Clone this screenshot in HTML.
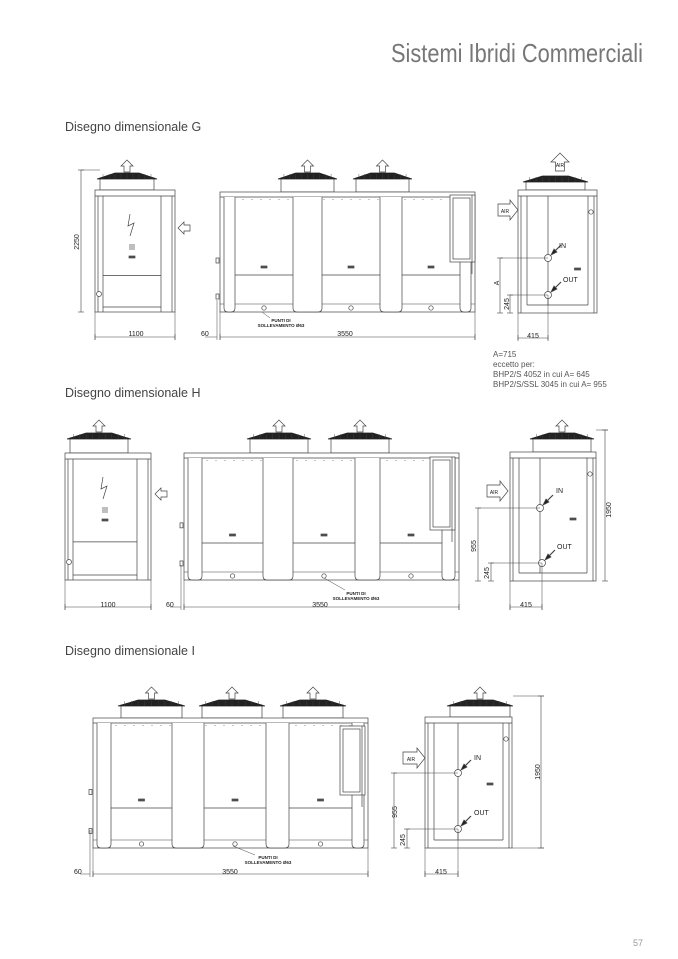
<!DOCTYPE html>
<html><head><meta charset="utf-8">
<style>
html,body{margin:0;padding:0;background:#fff;}
svg{display:block;}
text{font-family:"Liberation Sans",sans-serif;fill:#333;}
.h{font-size:12.5px;fill:#444;}
.d{font-size:7px;fill:#222;}
.s{font-size:4.5px;fill:#222;font-weight:bold;}
.n{font-size:8px;fill:#555;}
</style></head>
<body>
<svg id="c" width="678" height="959" viewBox="0 0 678 959" xmlns="http://www.w3.org/2000/svg">
<rect width="678" height="959" fill="#fff"/>
<g id="shapes" fill="none" stroke="#444" stroke-width="0.7"></g>
<text x="391" y="62" font-size="26" textLength="252" lengthAdjust="spacingAndGlyphs" style="fill:#777">Sistemi Ibridi Commerciali</text>
<text class="h" x="65" y="131">Disegno dimensionale G</text>
<text class="h" x="65" y="397">Disegno dimensionale H</text>
<text class="h" x="65" y="655">Disegno dimensionale I</text>
<text x="633" y="946" font-size="9" style="fill:#999">57</text>

<text class="d" transform="translate(79,242) rotate(-90)" text-anchor="middle">2250</text>
<text class="d" x="136" y="336" text-anchor="middle">1100</text>
<text class="d" x="201" y="336">60</text>
<text class="d" x="345" y="336" text-anchor="middle">3550</text>
<text class="s" x="281" y="322" text-anchor="middle">PUNTI DI</text>
<text class="s" x="281" y="327" text-anchor="middle">SOLLEVAMENTO Ø63</text>
<text class="d" x="560" y="167" text-anchor="middle" style="font-size:5px">AIR</text>
<text class="d" x="505" y="213" text-anchor="middle" style="font-size:5px">AIR</text>
<text class="d" x="559" y="248">IN</text>
<text class="d" x="563" y="282">OUT</text>
<text class="d" transform="translate(499,283) rotate(-90)" text-anchor="middle">A</text>
<text class="d" transform="translate(509,304) rotate(-90)" text-anchor="middle">245</text>
<text class="d" x="533" y="338" text-anchor="middle">415</text>
<text class="n" x="493" y="357">A=715</text>
<text class="n" x="493" y="367">eccetto per:</text>
<text class="n" x="493" y="377">BHP2/S 4052 in cui A= 645</text>
<text class="n" x="493" y="387">BHP2/S/SSL 3045 in cui A= 955</text>

<text class="d" x="108" y="607" text-anchor="middle">1100</text>
<text class="d" x="166" y="607">60</text>
<text class="d" x="320" y="607" text-anchor="middle">3550</text>
<text class="s" x="356" y="595" text-anchor="middle">PUNTI DI</text>
<text class="s" x="356" y="600" text-anchor="middle">SOLLEVAMENTO Ø63</text>
<text class="d" x="494" y="494" text-anchor="middle" style="font-size:5px">AIR</text>
<text class="d" x="556" y="493">IN</text>
<text class="d" x="557" y="549">OUT</text>
<text class="d" transform="translate(611,510) rotate(-90)" text-anchor="middle">1950</text>
<text class="d" transform="translate(476,546) rotate(-90)" text-anchor="middle">955</text>
<text class="d" transform="translate(489,573) rotate(-90)" text-anchor="middle">245</text>
<text class="d" x="526" y="607" text-anchor="middle">415</text>

<text class="d" x="74" y="874">60</text>
<text class="d" x="230" y="874" text-anchor="middle">3550</text>
<text class="s" x="268" y="859" text-anchor="middle">PUNTI DI</text>
<text class="s" x="268" y="864" text-anchor="middle">SOLLEVAMENTO Ø63</text>
<text class="d" x="411" y="761" text-anchor="middle" style="font-size:5px">AIR</text>
<text class="d" x="474" y="760">IN</text>
<text class="d" x="474" y="815">OUT</text>
<text class="d" transform="translate(540,772) rotate(-90)" text-anchor="middle">1950</text>
<text class="d" transform="translate(397,812) rotate(-90)" text-anchor="middle">955</text>
<text class="d" transform="translate(405,840) rotate(-90)" text-anchor="middle">245</text>
<text class="d" x="441" y="874" text-anchor="middle">415</text>
</svg>
<script>
var g=document.getElementById('shapes'),NS='http://www.w3.org/2000/svg';
function el(t,a){var e=document.createElementNS(NS,t);for(var k in a)e.setAttribute(k,a[k]);g.appendChild(e);return e;}
function L(x1,y1,x2,y2,w){el('line',{x1:x1,y1:y1,x2:x2,y2:y2,'stroke-width':w||0.7});}
function R(x,y,w,h,f){el('rect',{x:x,y:y,width:w,height:h,fill:f||'none'});}
function C(x,y,r){el('circle',{cx:x,cy:y,r:r,fill:'#fff'});}
function up(cx,t,s){s=s||1;el('polygon',{points:[cx,t,cx+6*s,t+6*s,cx+3*s,t+6*s,cx+3*s,t+12*s,cx-3*s,t+12*s,cx-3*s,t+6*s,cx-6*s,t+6*s].join(' '),fill:'#fff'});}
function left(x,cy){el('polygon',{points:[x,cy,x+6,cy-6,x+6,cy-3,x+12,cy-3,x+12,cy+3,x+6,cy+3,x+6,cy+6].join(' '),fill:'#fff'});}
function airR(x,cy,w){el('polygon',{points:[x,cy-6,x+w-8,cy-6,x+w-8,cy-10,x+w,cy,x+w-8,cy+10,x+w-8,cy+6,x,cy+6].join(' '),fill:'#fff'});}
function fan(x0,x1,capY,bodyY,noArrow){
  var w=x1-x0;
  R(x0+3,capY+5,w-6,bodyY-capY-5,'#fff');
  el('polygon',{points:[x0,capY+6,x0+w*0.3,capY,x1-w*0.3,capY,x1,capY+6].join(' '),fill:'#222',stroke:'#222'});
  for(var i=1;i<10;i++)L(x0+w*i/10,capY+1,x0+w*i/10,capY+6,0.4);
  if(!noArrow)up((x0+x1)/2,capY-13);
}
function dimH(x1,x2,y){L(x1,y,x2,y,0.6);L(x1,y-3,x1,y+3,0.6);L(x2,y-3,x2,y+3,0.6);}
function dimV(x,y1,y2){L(x,y1,x,y2,0.6);L(x-3,y1,x+3,y1,0.6);L(x-3,y2,x+3,y2,0.6);}
function front(x0,x1,y0,y1,fx0,fx1,capY){
  fan(fx0,fx1,capY,y0);
  R(x0,y0,x1-x0,y1-y0,'#fff');L(x0,y0+6,x1,y0+6);
  var ix0=x0+8,ix1=x1-14;
  L(ix0,y0+6,ix0,y1);L(ix1,y0+6,ix1,y1);
  var ly=y0+(y1-y0)*0.7;L(ix0,ly,ix1,ly);L(ix0,y1-5,ix1,y1-5);
  L(x0+3,y0+6,x0+3,y1);L(x1-3,y0+6,x1-3,y1);
  var cx=(ix0+ix1)/2;
  el('polyline',{points:[cx-2,y0+24,cx-4,y0+36,cx+2,y0+33,cx-2,y0+46].join(' ')});
  for(var i=0;i<3;i++)L(cx-3,y0+55+i*2,cx+3,y0+55+i*2);
  R(cx-3,y0+66,6,2,'#555');
  C(x0+4,y1-18,2.5);
}
function col(a,b,y0,y1){
  el('path',{d:'M'+a+' '+(y0+5)+' L'+a+' '+(y1-4)+' Q'+a+' '+y1+' '+(a+4)+' '+y1+' L'+(b-4)+' '+y1+' Q'+b+' '+y1+' '+b+' '+(y1-4)+' L'+b+' '+(y0+5),fill:'#fff'});
}
function longU(x0,x1,y0,y1,ly,d,fans,capY,coil){
  fans.forEach(function(f){fan(f[0],f[1],capY,y0);});
  R(x0,y0,x1-x0,y1-y0,'#fff');L(x0,y0+5,x1,y0+5);
  for(var x=x0+5;x<x1;x+=9)L(x,y0+7,x,y0+8,0.6);
  L(x0,y1-8,x1,y1-8,0.5);
  col(x0+4,d[0],y0,y1);col(d[1],d[2],y0,y1);col(d[3],d[4],y0,y1);col(d[5],x1-4,y0,y1);
  [[d[0],d[1]],[d[2],d[3]],[d[4],d[5]]].forEach(function(p){L(p[0],ly,p[1],ly);var m=(p[0]+p[1])/2;R(m-3,ly-9,6,2,'#555');C(m,y1-4,2.2);});
  R(coil[0],coil[1],coil[2],coil[3],'#fff');R(coil[0]+3,coil[1]+3,coil[2]-8,coil[3]-6);
  L(coil[0]+coil[2]-3,coil[1],coil[0]+coil[2]-3,coil[1]+coil[3]+12);
  R(x0-4,y0+(y1-y0)*0.55,3,5);R(x0-4,y0+(y1-y0)*0.85,3,5);
}
function side(x0,x1,y0,y1,fx0,fx1,capY,inP,outP,noArrow){
  fan(fx0,fx1,capY,y0,noArrow);
  R(x0,y0,x1-x0,y1-y0,'#fff');L(x0,y0+6,x1,y0+6);
  L(x0+9,y0+6,x0+9,y1-8);L(x1-9,y0+6,x1-9,y1-8);L(inP[0],y0+6,inP[0],y1-8);
  L(x0+9,y1-8,x1-9,y1-8);L(x0+3,y0+6,x0+3,y1);L(x1-3,y0+6,x1-3,y1);
  C(x1-6,y0+22,2.2);R((inP[0]+x1)/2+2,inP[1]+10,6,2,'#555');
  C(inP[0],inP[1],3.5);C(outP[0],outP[1],3.5);
  el('polygon',{points:[inP[0]+3,inP[1]-3,inP[0]+9,inP[1]-6,inP[0]+6,inP[1]-9].join(' '),fill:'#222'});
  L(inP[0]+7,inP[1]-7,inP[0]+13,inP[1]-13,1.2);
  el('polygon',{points:[outP[0]+3,outP[1]-3,outP[0]+9,outP[1]-6,outP[0]+6,outP[1]-9].join(' '),fill:'#222'});
  L(outP[0]+7,outP[1]-7,outP[0]+13,outP[1]-13,1.2);
}
/* G */
front(95,175,190,312,97,157,173);
L(81,170,100,170,0.5);dimV(81,170,312);
L(95,312,95,340,0.5);L(175,312,175,340,0.5);dimH(95,175,337);
left(178,228);
longU(220,475,192,312,275,[235,293,322,380,402,460],[[278,337],[353,412]],173,[450,195,25,67]);
L(220,312,220,340,0.5);L(475,312,475,340,0.5);L(217,300,217,340,0.5);dimH(220,475,337);L(205,337,217,337,0.5);
L(262,312,270,318,0.5);
side(518,597,190,313,523,588,176,[548,258],[548,295],true);
up(560,153,1.5);
airR(498,210,20);
L(500,258,548,258,0.5);dimV(500,258,313);L(510,295,548,295,0.5);dimV(510,295,313);
L(518,313,518,340,0.5);L(548,295,548,340,0.5);dimH(518,548,338);
/* H */
front(65,151,453,580,67,131,433);
L(65,580,65,610,0.5);L(151,580,151,610,0.5);dimH(65,151,607);
left(155,494);
longU(184,459,453,580,543,[202,263,293,355,380,442],[[247,311],[328,392]],433,[430,457,25,73]);
L(184,580,184,610,0.5);L(459,580,459,610,0.5);L(181,565,181,610,0.5);dimH(184,459,607);L(170,607,181,607,0.5);
L(324,578,345,590,0.5);
side(510,596,452,581,530,594,433,[540,508],[542,563]);
airR(487,491,21);
L(596,430,608,430,0.5);dimV(605,430,581);
L(478,508,540,508,0.5);dimV(478,508,581);L(491,563,542,563,0.5);dimV(491,563,581);
L(510,581,510,610,0.5);L(542,563,542,610,0.5);dimH(510,542,607);
/* I */
longU(93,368,718,848,808,[111,172,204,266,289,352],[[118,185],[199,265],[280,346]],700,[340,726,25,69]);
L(93,848,93,877,0.5);L(368,848,368,877,0.5);L(90,830,90,877,0.5);dimH(93,368,874);L(80,874,90,874,0.5);
L(233,846,255,855,0.5);
side(425,512,717,848,447,513,700,[458,773],[458,829]);
airR(403,758,22);
L(513,696,544,696,0.5);L(512,848,544,848,0.5);dimV(541,696,848);
L(394,773,458,773,0.5);dimV(394,773,848);L(407,829,458,829,0.5);dimV(407,829,848);
L(425,848,425,877,0.5);L(458,829,458,877,0.5);dimH(425,458,874);
</script>
</body></html>
